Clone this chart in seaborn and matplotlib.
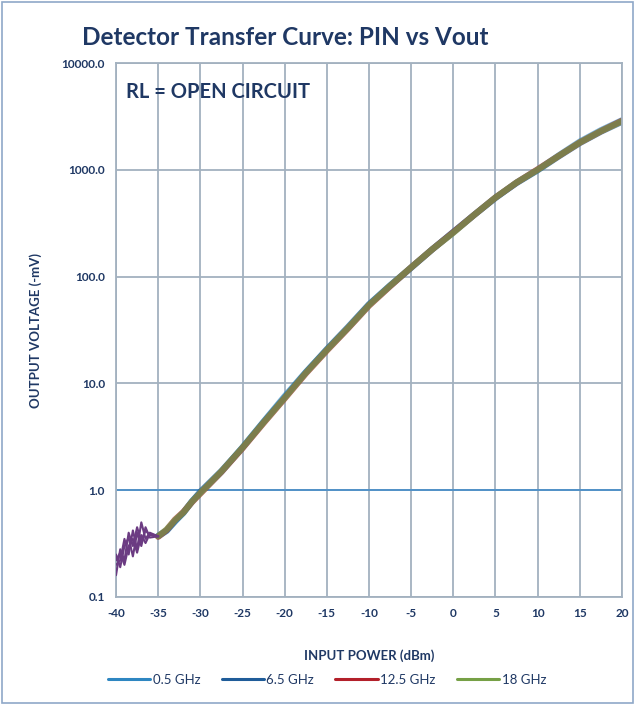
import numpy as np
import pandas as pd
import matplotlib
matplotlib.use("Agg")
import matplotlib.pyplot as plt
import seaborn as sns
from matplotlib.patches import Rectangle

# -----------------------------
# DATA
# -----------------------------
series_names = ["0.5 GHz", "6.5 GHz", "12.5 GHz", "18 GHz"]
series_colors = ["#2E86C1", "#1F5C99", "#B3202A", "#76A046"]

# noisy low-power region, -40 .. -35 dBm
pin_low = [-40, -39.5, -39, -38.5, -38, -37.5, -37, -36.5, -36, -35]
vout_low_05 = [0.16, 0.28, 0.22, 0.40, 0.30, 0.45, 0.33, 0.42, 0.38, 0.37]
vout_low_65 = [0.20, 0.22, 0.35, 0.25, 0.42, 0.28, 0.50, 0.35, 0.40, 0.37]
vout_low_125 = [0.25, 0.19, 0.30, 0.36, 0.24, 0.40, 0.30, 0.45, 0.36, 0.37]
vout_low_18 = [0.22, 0.26, 0.20, 0.30, 0.35, 0.26, 0.38, 0.32, 0.39, 0.37]

# common square-law / linear region, -35 .. 20 dBm
pin_main = [-35, -34, -33, -32, -31, -30, -27.5, -25, -22.5, -20, -17.5, -15,
            -12.5, -10, -7.5, -5, -2.5, 0, 2.5, 5, 7.5, 10, 12.5, 15, 17.5, 20]
vout_main = [0.37, 0.42, 0.52, 0.62, 0.78, 0.95, 1.5, 2.5, 4.3, 7.3, 12.5, 20.5,
             33, 54, 82, 122, 180, 260, 380, 550, 760, 1000, 1350, 1800, 2300, 2850]
# small per-series deviations from the common curve
dev_05 = [1.00, 0.99, 0.98, 1.00, 1.01, 1.00, 0.99, 1.01, 1.02, 1.04, 1.02, 1.01,
          1.00, 1.01, 1.00, 0.99, 1.00, 1.00, 1.00, 0.99, 1.00, 1.00, 1.01, 1.02, 1.02, 1.02]
dev_65 = [1.01, 1.00, 0.99, 0.99, 1.00, 1.02, 1.01, 1.00, 1.01, 1.01, 1.01, 1.02,
          1.02, 1.02, 1.01, 1.00, 1.00, 1.01, 1.00, 1.00, 0.99, 0.99, 0.99, 0.99, 0.99, 0.99]
dev_125 = [0.99, 1.01, 1.02, 1.01, 0.99, 0.98, 0.99, 0.99, 0.99, 0.99, 0.99, 0.99,
           0.99, 0.99, 0.99, 1.00, 1.00, 1.00, 1.00, 1.00, 1.00, 1.01, 1.00, 1.00, 1.00, 1.01]
dev_18 = [1.00, 1.02, 1.01, 1.00, 1.00, 0.99, 1.00, 1.00, 1.00, 1.00, 1.00, 1.00,
          1.00, 1.00, 1.00, 1.00, 1.00, 0.99, 1.00, 1.00, 1.00, 1.00, 1.00, 1.00, 1.00, 1.00]

y_ticks = [0.1, 1.0, 10.0, 100.0, 1000.0, 10000.0]
x_ticks = list(range(-40, 25, 5))

NAVY = "#1F3864"
GRID = "#A3B1BF"

# -----------------------------
# BUILD LONG TABLE
# -----------------------------
lows = [vout_low_05, vout_low_65, vout_low_125, vout_low_18]
devs = [dev_05, dev_65, dev_125, dev_18]
rows = []
for name, dev in zip(series_names, devs):
    for x, v, d in zip(pin_main, vout_main, dev):
        rows.append((name, x, v * d))
df = pd.DataFrame(rows, columns=["series", "pin", "vout"])

# -----------------------------
# PLOT
# -----------------------------
sns.set_style("white")
plt.rcParams["font.family"] = ["Lato", "DejaVu Sans"]

fig = plt.figure(figsize=(6.35, 7.05), dpi=100)
ax = fig.add_axes([0.1827, 0.1532, 0.7968, 0.7574])

# figure border
fig.patches.append(Rectangle((0.003, 0.003), 0.994, 0.994, transform=fig.transFigure,
                             fill=False, edgecolor="#8FA8C8", linewidth=1.2))

sns.lineplot(data=df, x="pin", y="vout", hue="series", hue_order=series_names,
             palette=series_colors, linewidth=4.5, alpha=0.65, sort=False,
             estimator=None, ax=ax, legend=False)
# thin purple scribble in the noisy part
for low in lows:
    ax.plot(pin_low, low, color="#6B3B82", linewidth=1.5, zorder=3)

ax.set_yscale("log")
ax.set_xlim(-40, 20)
ax.set_ylim(0.1, 10000)
ax.set_xticks(x_ticks)
ax.set_xticklabels([str(t) for t in x_ticks])
ax.set_yticks(y_ticks)
ax.set_yticklabels([f"{t:.1f}" for t in y_ticks])
ax.minorticks_off()
ax.tick_params(axis="both", length=0, labelsize=8.5, labelcolor=NAVY, pad=8)
for lab in ax.get_xticklabels() + ax.get_yticklabels():
    lab.set_fontweight("bold")

ax.grid(True, color=GRID, linewidth=1.3)
ax.set_axisbelow(True)
ax.axhline(1.0, color="#4A8FC8", linewidth=1.3, zorder=1)
for s in ax.spines.values():
    s.set_color(GRID)
    s.set_linewidth(1.3)

ax.set_xlabel("INPUT POWER (dBm)", fontsize=9.5, fontweight="bold", color=NAVY, labelpad=22)
ax.set_ylabel("OUTPUT VOLTAGE (-mV)", fontsize=9.5, fontweight="bold", color=NAVY, labelpad=14)

fig.text(0.45, 0.947, "Detector Transfer Curve: PIN vs Vout", ha="center", va="center",
         fontsize=17.5, fontweight="bold", color=NAVY)
ax.text(0.02, 0.945, "RL = OPEN CIRCUIT", transform=ax.transAxes, ha="left", va="center",
        fontsize=14.5, fontweight="bold", color=NAVY)

handles = [plt.Line2D([0], [0], color=c, linewidth=2.2) for c in series_colors]
fig.legend(handles, series_names, loc="center", bbox_to_anchor=(0.515, 0.036), ncol=4,
           frameon=False, fontsize=9.5, handlelength=3.2, handletextpad=0.2,
           columnspacing=1.6, labelcolor=NAVY)

fig.savefig("out.png", dpi=100)
